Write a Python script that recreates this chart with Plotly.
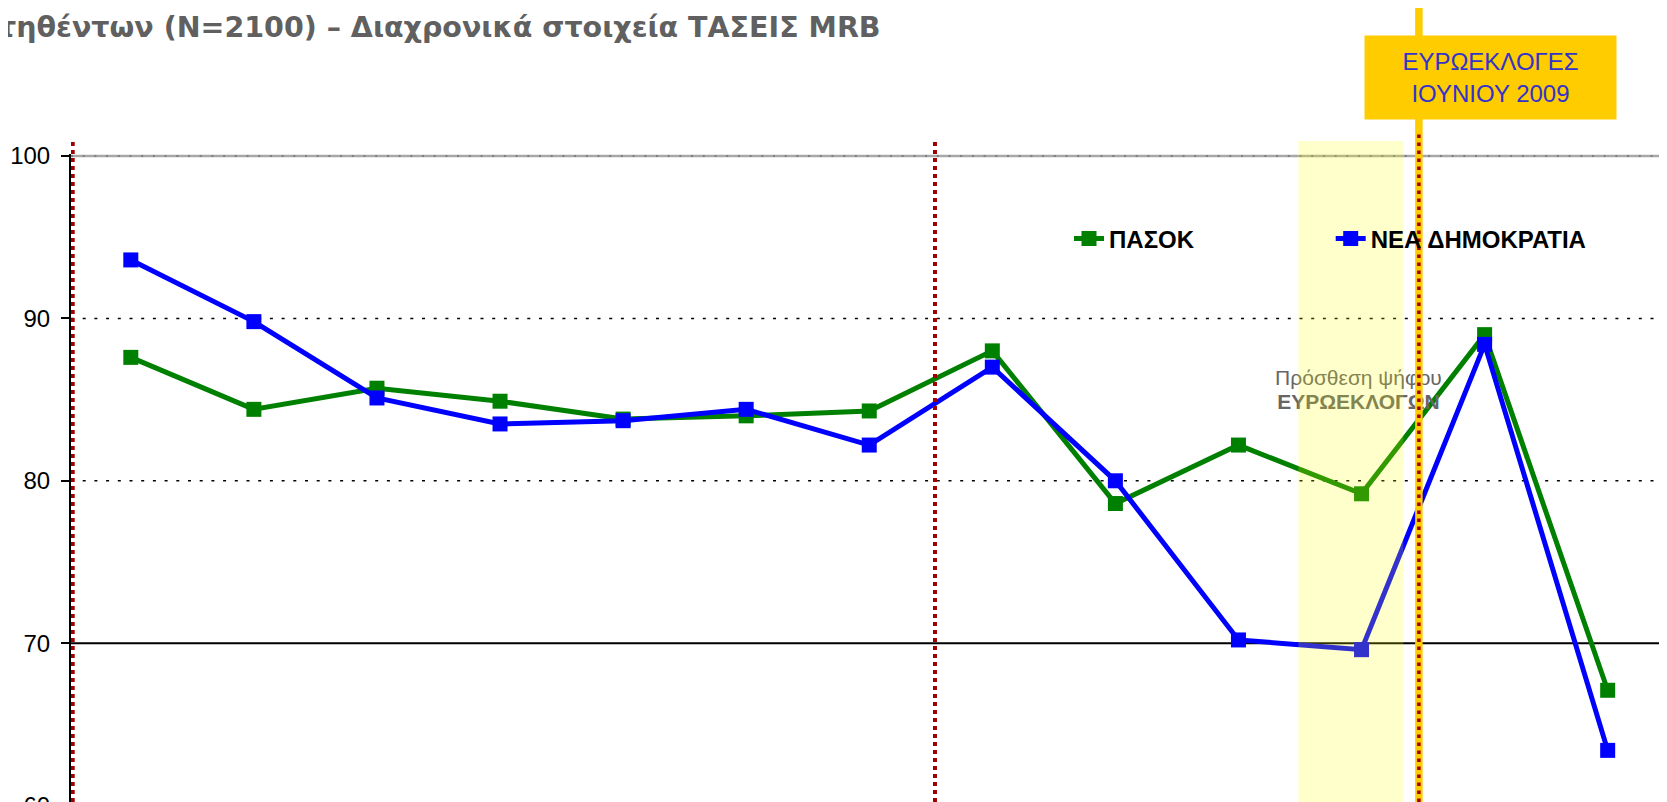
import plotly.graph_objects as go

# ---------------- data ----------------
waves = ["1", "2", "3", "4", "5", "6", "7", "8", "9", "10", "11", "12", "13"]
pasok = [87.6, 84.4, 85.7, 84.9, 83.8, 84.0, 84.3, 88.0, 78.6, 82.2, 79.2, 89.0, 67.1]
nd = [93.6, 89.8, 85.1, 83.5, 83.7, 84.4, 82.2, 87.0, 80.0, 70.2, 69.6, 88.4, 63.4]
series_names = ["ΠΑΣΟΚ", "ΝΕΑ ΔΗΜΟΚΡΑΤΙΑ"]
ytick_vals = [60, 70, 80, 90, 100]
title_text = "τηθέντων (N=2100) – Διαχρονικά στοιχεία ΤΑΣΕΙΣ MRB"
box_text = "ΕΥΡΩΕΚΛΟΓΕΣ<br>ΙΟΥΝΙΟΥ 2009"
note_line1 = "Πρόσθεση ψήφου"
note_line2 = "ΕΥΡΩΕΚΛΟΓΩΝ"

x_idx = list(range(len(waves)))

# ---------------- layout geometry ----------------
OFF = 8                      # page body margin
W, H = 1667, 802
ML, MT = 63, 146
PLOT_H = H - MT
PLOT_W = W - ML
X_RANGE = [-0.486, 12.547]
Y_RANGE = [59.728, 100.123]


def py(pix):
    """reference pixel row -> paper y"""
    return (H - (pix - OFF)) / PLOT_H


def px(pix):
    """reference pixel column -> paper x"""
    return (pix - OFF - ML) / PLOT_W


FONT = "Liberation Sans, Arial, sans-serif"
FONT_T = "DejaVu Sans, Verdana, sans-serif"

fig = go.Figure()

fig.add_trace(go.Scatter(
    x=x_idx, y=pasok, name=series_names[0], mode="lines+markers",
    customdata=waves,
    line=dict(color="#008000", width=5),
    marker=dict(symbol="square", size=15, color="#008000"),
    legend="legend",
))
fig.add_trace(go.Scatter(
    x=x_idx, y=nd, name=series_names[1], mode="lines+markers",
    customdata=waves,
    line=dict(color="#0000FF", width=5),
    marker=dict(symbol="square", size=15, color="#0000FF"),
    legend="legend2",
))
# note text (drawn as a text trace so the highlight overlays it)
fig.add_trace(go.Scatter(
    x=[9.975, 9.975], y=[86.25, 84.77], mode="text",
    text=[note_line1, "<b>" + note_line2 + "</b>"],
    textfont=dict(family=FONT, size=21, color="#666666"),
    showlegend=False, cliponaxis=False, hoverinfo="skip",
))

shapes = []
# horizontal reference lines
shapes.append(dict(type="line", xref="paper", yref="y", x0=0, x1=1, y0=100, y1=100,
                   line=dict(color="#A8A8A8", width=2.5), layer="below"))
shapes.append(dict(type="line", xref="paper", yref="y", x0=0, x1=1, y0=100, y1=100,
                   line=dict(color="#555555", width=1, dash="2px,9.7px"), layer="below"))
for gv in (90, 80):
    shapes.append(dict(type="line", xref="paper", yref="y", x0=0, x1=1, y0=gv, y1=gv,
                       line=dict(color="#000000", width=1.5, dash="3px,8.7px"), layer="below"))
shapes.append(dict(type="line", xref="paper", yref="y", x0=0, x1=1, y0=70, y1=70,
                   line=dict(color="#000000", width=2), layer="below"))

# red dotted period separators
for xc in (-0.472, 6.534):
    shapes.append(dict(type="line", xref="x", yref="paper", x0=xc, x1=xc, y0=0, y1=py(140),
                       line=dict(color="#A00000", width=4, dash="4px,4px"), layer="above"))

# highlighted euro-election wave
shapes.append(dict(type="rect", xref="x", yref="paper", x0=9.486, x1=10.340, y0=0, y1=py(141),
                   fillcolor="rgba(255,255,0,0.2)", line=dict(width=0), layer="above"))
# euro-election marker line
shapes.append(dict(type="line", xref="x", yref="paper", x0=10.466, x1=10.466, y0=0, y1=py(6),
                   line=dict(color="#FFCC00", width=7.5), layer="above"))
shapes.append(dict(type="line", xref="x", yref="paper", x0=10.466, x1=10.466, y0=0, y1=py(130),
                   line=dict(color="#A00000", width=3.5, dash="3.5px,4.5px"), layer="above"))

annotations = [
    dict(text="<b>" + title_text + "</b>", xref="paper", yref="paper",
         x=px(883), y=py(27), xanchor="right", yanchor="middle", showarrow=False,
         font=dict(family=FONT_T, size=28.5, color="#606060")),
    dict(text=box_text, xref="paper", yref="paper", x=px(1490.4), y=py(77.7),
         xanchor="center", yanchor="middle", showarrow=False, bgcolor="#FFCC00",
         width=251, height=83, borderpad=0, align="center",
         font=dict(family=FONT, size=24, color="#3333CC")),
]

fig.update_layout(
    width=W, height=H,
    margin=dict(l=ML, r=0, t=MT, b=0, pad=0, autoexpand=False),
    paper_bgcolor="white", plot_bgcolor="white",
    font=dict(family=FONT, color="#000000"),
    xaxis=dict(type="linear", range=X_RANGE, showgrid=False, zeroline=False,
               showticklabels=False, showline=False, ticks="", automargin=False),
    yaxis=dict(range=Y_RANGE, tickvals=ytick_vals, showgrid=False, zeroline=False,
               showline=True, linecolor="#000000", linewidth=2, automargin=False,
               ticks="outside", ticklen=8, tickwidth=2, tickcolor="#000000",
               ticklabelstandoff=6, ticklabeloverflow="allow",
               tickfont=dict(family=FONT, size=24, color="#000000")),
    legend=dict(x=px(1069), y=py(239), xanchor="left", yanchor="middle",
                orientation="h", bgcolor="rgba(0,0,0,0)", borderwidth=0,
                font=dict(family=FONT, size=24, color="#000000", weight="bold")),
    legend2=dict(x=px(1330.7), y=py(239), xanchor="left", yanchor="middle",
                 orientation="h", bgcolor="rgba(0,0,0,0)", borderwidth=0,
                 font=dict(family=FONT, size=24, color="#000000", weight="bold")),
    shapes=shapes,
    annotations=annotations,
    showlegend=True,
)

fig.write_html("out.html")
